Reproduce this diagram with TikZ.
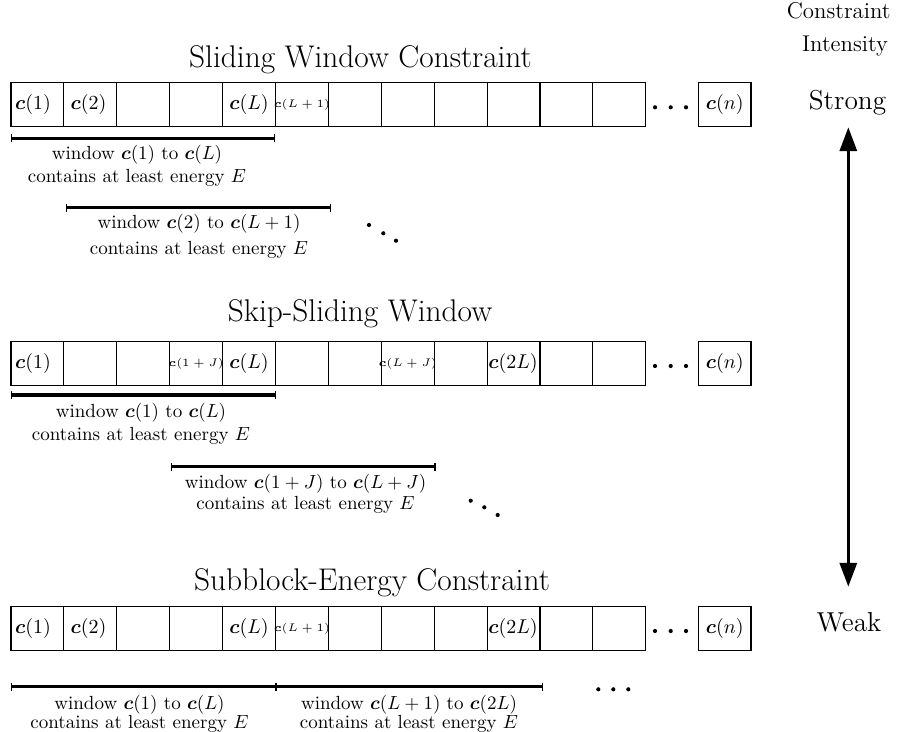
\RequirePackage{fix-cm}
\documentclass[tikz,border=0pt]{standalone}
\usepackage{amsmath}
\usepackage{bm}
\usetikzlibrary{arrows.meta}
\begin{document}
\begin{tikzpicture}[x=0.5263pt,y=-0.5263pt,
  cell/.style={draw, line width=0.6pt, minimum width=27.84pt, minimum height=23.16pt, inner sep=0pt, outer sep=0pt, anchor=north west},
  lbl/.style={inner sep=0pt, font=\fontsize{10.5}{12}\selectfont},
  tinylbl/.style={inner sep=0pt, font=\fontsize{5.8}{7}\selectfont},
  txt/.style={inner sep=0pt, anchor=base, font=\fontsize{10}{12}\selectfont},
  ttl/.style={inner sep=0pt, anchor=base, font=\fontsize{16.5}{19}\selectfont},
  side/.style={inner sep=0pt, anchor=base, font=\large},
  big/.style={inner sep=0pt, anchor=base, font=\Large},
  brk/.style={line width=1.7pt, {Bar[width=4pt,line width=0.7pt]}-{Bar[width=4pt,line width=0.7pt]}},
  dotr/.style={radius=1.1pt},
  scalearrow/.style={line width=1.6pt, {Triangle[length=12.6pt,width=9pt]}-{Triangle[length=12.6pt,width=9pt]}}
]
\useasboundingbox (0,0) rectangle (902,731);

% cells
\foreach \r/\y in {1/82.3,2/341.7,3/606.7}{
  \foreach \i in {1,...,12}{
    \node[cell] (r\r-\i) at ({11+(\i-1)*52.9},\y) {};
  }
  \node[cell, minimum width=27.74pt] (r\r-n) at (698.3,\y) {};
}

% titles
\node[ttl] (t1) at (360.5,67.7) {Sliding Window Constraint};
\node[ttl] (t2) at (360,321.7) {Skip-Sliding Window};
\node[ttl] (t3) at (372,590) {Subblock-Energy Constraint};

% row 1 labels
\node[lbl, xshift=-2.3pt] (a1) at (r1-1.center) {$\bm{c}(1)$};
\node[lbl, xshift=-1pt] (a2) at (r1-2.center) {$\bm{c}(2)$};
\node[lbl] (a5) at (r1-5.center) {$\bm{c}(L)$};
\node[tinylbl] (a6) at (r1-6.center) {$\bm{c}(L+1)$};
\node[lbl] (an) at (r1-n.center) {$\bm{c}(n)$};
% row 2 labels
\node[lbl, xshift=-2.3pt] (b1) at (r2-1.center) {$\bm{c}(1)$};
\node[tinylbl] (b4) at (r2-4.center) {$\bm{c}(1+J)$};
\node[lbl] (b5) at (r2-5.center) {$\bm{c}(L)$};
\node[tinylbl] (b8) at (r2-8.center) {$\bm{c}(L+J)$};
\node[lbl, anchor=west, xshift=0.5pt] (b10) at (r2-10.west) {$\bm{c}(2L)$};
\node[lbl] (bn) at (r2-n.center) {$\bm{c}(n)$};
% row 3 labels
\node[lbl, xshift=-2.3pt] (c1) at (r3-1.center) {$\bm{c}(1)$};
\node[lbl, xshift=-1pt] (c2) at (r3-2.center) {$\bm{c}(2)$};
\node[lbl] (c5) at (r3-5.center) {$\bm{c}(L)$};
\node[tinylbl] (c6) at (r3-6.center) {$\bm{c}(L+1)$};
\node[lbl, anchor=west, xshift=0.5pt] (c10) at (r3-10.west) {$\bm{c}(2L)$};
\node[lbl] (cn) at (r3-n.center) {$\bm{c}(n)$};

% dots between last cell and c(n)
\foreach \yy in {107.3,366,631}{
  \foreach \xx in {655,670.7,686}{
    \fill (\xx,\yy) circle[dotr];
  }
}

% row 1 windows
\coordinate (w1s) at (11,138.3);
\coordinate (w1e) at (275.3,138.3);
\draw[brk] (w1s) -- (w1e);
\node[txt] (w1a) at (137,159.5) {window $\bm{c}(1)$ to $\bm{c}(L)$};
\node[txt] (w1b) at (137,182) {contains at least energy $E$};
\coordinate (w2s) at (66,207.7);
\coordinate (w2e) at (331,207.7);
\draw[brk] (w2s) -- (w2e);
\node[txt] (w2a) at (199,228.6) {window $\bm{c}(2)$ to $\bm{c}(L+1)$};
\node[txt] (w2b) at (199,254.5) {contains at least energy $E$};
\foreach \xx/\yy in {369/225,383.3/233.3,396/240.7}{\fill (\xx,\yy) circle[dotr];}

% row 2 windows
\coordinate (v1s) at (11,395);
\coordinate (v1e) at (276,395);
\draw[brk] (v1s) -- (v1e);
\node[txt] (v1a) at (141,417.2) {window $\bm{c}(1)$ to $\bm{c}(L)$};
\node[txt] (v1b) at (141,440) {contains at least energy $E$};
\coordinate (v2s) at (171,466.7);
\coordinate (v2e) at (435.7,466.7);
\draw[brk] (v2s) -- (v2e);
\node[txt] (v2a) at (305.5,488) {window $\bm{c}(1+J)$ to $\bm{c}(L+J)$};
\node[txt] (v2b) at (305.5,509.5) {contains at least energy $E$};
\foreach \xx/\yy in {470.7/500.7,484.3/507.3,497.7/515}{\fill (\xx,\yy) circle[dotr];}

% row 3 windows
\coordinate (u1s) at (11,686.7);
\coordinate (u1e) at (276,686.7);
\coordinate (u2e) at (543,686.7);
\draw[brk] (u1s) -- (u1e);
\draw[brk] (u1e) -- (u2e);
\node[txt] (u1a) at (139.5,709) {window $\bm{c}(1)$ to $\bm{c}(L)$};
\node[txt] (u1b) at (139.5,728) {contains at least energy $E$};
\node[txt] (u2a) at (409,709) {window $\bm{c}(L+1)$ to $\bm{c}(2L)$};
\node[txt] (u2b) at (409,728) {contains at least energy $E$};
\foreach \xx in {598.3,613.3,628.3}{\fill (\xx,689.3) circle[dotr];}

% intensity scale
\node[side] (ci) at (838.7,18.3) {Constraint};
\node[side] (ii) at (845,51.7) {Intensity};
\node[big] (st) at (847.5,110) {Strong};
\node[big] (wk) at (849,631.7) {Weak};
\coordinate (atop) at (848.3,127.3);
\coordinate (abot) at (848.3,586.7);
\draw[scalearrow] (atop) -- (abot);
\end{tikzpicture}
\end{document}
